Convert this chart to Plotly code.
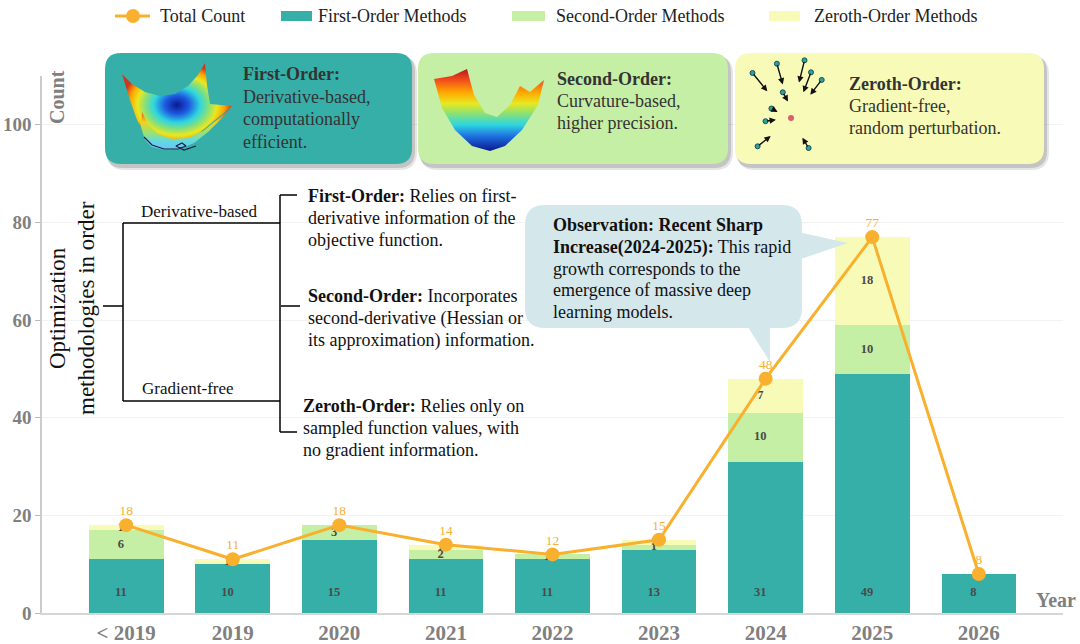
import plotly.graph_objects as go

# ---------------- data ----------------
categories = ["< 2019", "2019", "2020", "2021", "2022", "2023", "2024", "2025", "2026"]
first_order = [11, 10, 15, 11, 11, 13, 31, 49, 8]
second_order = [6, 0, 3, 2, 1, 1, 10, 10, 0]
zeroth_order = [1, 1, 0, 1, 0, 1, 7, 18, 0]
total_count = [18, 11, 18, 14, 12, 15, 48, 77, 8]
y_ticks = [0, 20, 40, 60, 80, 100]

# ---------------- style ----------------
W, H = 1080, 644
TEAL = "#36AFA9"
GREEN = "#C5EFA5"
YELLOW = "#F8FBB8"
ORANGE = "#F9B02E"
GRAY = "#808080"
SERIF = "Liberation Serif"
TXT = "#333333"

xs = list(range(len(categories)))
fig = go.Figure()

# stacked bars
for vals, col, name in [(first_order, TEAL, "First-Order Methods"),
                        (second_order, GREEN, "Second-Order Methods"),
                        (zeroth_order, YELLOW, "Zeroth-Order Methods")]:
    fig.add_trace(go.Bar(x=xs, y=vals, marker=dict(color=col, line=dict(width=0)),
                         width=0.7, name=name, showlegend=False, hoverinfo="skip"))

# segment labels
off = -0.05
lab_font = dict(family=SERIF, size=12.5, color="#4A4A4A", weight="bold")
fig.add_trace(go.Scatter(x=[i + off for i in xs], y=[4.2] * len(xs), mode="text",
                         text=[str(v) if v else "" for v in first_order],
                         textfont=lab_font, showlegend=False, hoverinfo="skip"))
fig.add_trace(go.Scatter(x=[i + off for i in xs],
                         y=[f + s / 2 for f, s in zip(first_order, second_order)], mode="text",
                         text=[str(v) if v else "" for v in second_order],
                         textfont=lab_font, showlegend=False, hoverinfo="skip"))
fig.add_trace(go.Scatter(x=[i + off for i in xs],
                         y=[f + s + z / 2 for f, s, z in zip(first_order, second_order, zeroth_order)],
                         mode="text", text=[str(v) if v else "" for v in zeroth_order],
                         textfont=lab_font, showlegend=False, hoverinfo="skip"))

# total line
fig.add_trace(go.Scatter(x=xs, y=total_count, mode="lines+markers",
                         line=dict(color=ORANGE, width=3), marker=dict(size=14, color=ORANGE),
                         name="Total Count", showlegend=False, hoverinfo="skip"))
fig.add_trace(go.Scatter(x=xs, y=[v + 2.7 for v in total_count], mode="text",
                         text=[str(v) for v in total_count],
                         textfont=dict(family=SERIF, size=13.5, color=ORANGE),
                         showlegend=False, hoverinfo="skip"))

# ---------------- decoration helpers (pixel coordinates on x2/y2) ----------------
def rrect(x0, y0, x1, y1, r):
    return (f"M{x0+r},{y0} L{x1-r},{y0} Q{x1},{y0} {x1},{y0+r} L{x1},{y1-r} "
            f"Q{x1},{y1} {x1-r},{y1} L{x0+r},{y1} Q{x0},{y1} {x0},{y1-r} "
            f"L{x0},{y0+r} Q{x0},{y0} {x0+r},{y0} Z")

shapes = []
annotations = []

def pshape(path, fill, layer="between", opacity=1.0):
    shapes.append(dict(type="path", path=path, xref="x2", yref="y2", fillcolor=fill,
                       line=dict(width=0), layer=layer, opacity=opacity))

def seg(x0, y0, x1, y1, color="black", width=1.5):
    shapes.append(dict(type="line", x0=x0, y0=y0, x1=x1, y1=y1, xref="x2", yref="y2",
                       line=dict(color=color, width=width), layer="between"))

def text(x, y, s, size=18, color=TXT, xanchor="left", angle=0, bold=False):
    annotations.append(dict(x=x, y=y, xref="x2", yref="y2", text=s, showarrow=False,
                            xanchor=xanchor, yanchor="middle", textangle=angle,
                            font=dict(family=SERIF, size=size, color=color,
                                      weight="bold" if bold else "normal")))

def lines(x, ys, ss, size=18, color=TXT):
    for y, s in zip(ys, ss):
        text(x, y, s, size=size, color=color)

def poly(pts, grad, line=None):
    fig.add_trace(go.Scatter(x=[p[0] for p in pts], y=[p[1] for p in pts], mode="lines",
                             fill="toself", line=line or dict(width=0), fillgradient=grad,
                             xaxis="x2", yaxis="y2", showlegend=False, hoverinfo="skip"))

# ---------- top boxes ----------
boxes = [(105, 53, 412, 164, TEAL), (418, 53, 728, 164, GREEN), (735, 53, 1044, 164, YELLOW)]
for x0, y0, x1, y1, col in boxes:
    pshape(rrect(x0 + 2, y0 + 3, x1 + 5, y1 + 6, 18), "rgba(0,0,0,0.10)")
    pshape(rrect(x0 + 1, y0 + 2, x1 + 3, y1 + 4, 17), "rgba(0,0,0,0.14)")
    pshape(rrect(x0, y0, x1, y1, 16), col)

lines(241, [74, 96.5, 119, 141.5],
      ["<b>First-Order:</b>", "Derivative-based,", "computationally", "efficient."])
lines(555, [79, 101, 123], ["<b>Second-Order:</b>", "Curvature-based,", "higher precision."])
lines(847, [84, 106, 128], ["<b>Zeroth-Order:</b>", "Gradient-free,", "random perturbation."])

jet = [[0, "#B01A1A"], [0.12, "#F0441E"], [0.28, "#FFA500"], [0.42, "#E8E820"],
       [0.55, "#86E07A"], [0.68, "#2ED6E0"], [0.82, "#1E70E0"], [1, "#0A1890"]]
jet_radial = [[0, "#0A1890"], [0.22, "#1E5AE0"], [0.42, "#2ED6E0"], [0.58, "#86E07A"],
              [0.72, "#E8E820"], [0.86, "#FFA500"], [1, "#D0361A"]]
lip_scale = [[0, "#E04020"], [0.3, "#F5D020"], [0.55, "#9BE36A"], [0.8, "#5FD8E8"], [1, "#70C0F0"]]

# icon 1: first-order surface (back sheet + front lip)
icon1 = [(122, 74), (132, 84), (145, 92), (160, 96), (175, 94), (188, 86), (198, 75), (205, 63),
         (207, 85), (210, 104), (232, 106), (222, 114), (210, 124), (198, 134), (185, 143),
         (170, 147), (158, 146), (148, 140), (142, 128), (137, 120), (130, 100), (122, 74)]
poly(icon1, dict(type="radial", colorscale=jet_radial))
lip = [(142, 112), (148, 124), (158, 134), (172, 139), (188, 138), (203, 131), (218, 119),
       (232, 106), (222, 118), (208, 132), (194, 143), (180, 149), (165, 150), (152, 147),
       (145, 140), (141, 127), (142, 112)]
poly(lip, dict(type="vertical", colorscale=lip_scale, start=110, stop=150))
fig.add_trace(go.Scatter(x=[144, 152, 164, 178, 186, 182, 176, 184, 196],
                         y=[137, 145, 149, 149, 146, 143, 146, 150, 146], mode="lines",
                         line=dict(color="#1a1a40", width=1.2), xaxis="x2", yaxis="y2",
                         showlegend=False, hoverinfo="skip"))

# icon 2: second-order bowl
icon2 = [(434, 79), (452, 76), (467, 69), (474, 95), (485, 113), (497, 117), (510, 105),
         (520, 86), (530, 92), (544, 80), (538, 105), (522, 130), (505, 146), (490, 151),
         (472, 146), (455, 130), (442, 108), (434, 79)]
poly(icon2, dict(type="vertical", colorscale=jet, start=69, stop=151))

# icon 3: perturbation arrows
arrows = [((752.5, 73), (767.3, 91.3)), ((776.9, 63.7), (782.8, 84.4)), ((804.5, 60.3), (799, 82.6)),
          ((811, 72.3), (803.4, 92.3)), ((821.7, 79.9), (810.3, 94.7)), ((782.8, 92.3), (788, 101.6)),
          ((771.4, 108.5), (777.6, 111.9)), ((765.5, 121.2), (775.9, 119.8)),
          ((757.6, 146.3), (770.7, 136)), ((808.6, 148), (802.4, 137.7))]
for (tx, ty), (hx, hy) in arrows:
    annotations.append(dict(x=hx, y=hy, ax=tx, ay=ty, xref="x2", yref="y2", axref="x2", ayref="y2",
                            text="", showarrow=True, arrowhead=2, arrowsize=0.9, arrowwidth=1.4,
                            arrowcolor="#111111"))
fig.add_trace(go.Scatter(x=[a[0][0] for a in arrows], y=[a[0][1] for a in arrows], mode="markers",
                         marker=dict(size=5, color="#2BA39B", line=dict(color="#1B4F5A", width=1)),
                         xaxis="x2", yaxis="y2", showlegend=False, hoverinfo="skip"))
fig.add_trace(go.Scatter(x=[791], y=[118], mode="markers", marker=dict(size=6, color="#D9606A"),
                         xaxis="x2", yaxis="y2", showlegend=False, hoverinfo="skip"))

# ---------- tree diagram ----------
seg(103, 306, 123, 306)
seg(123, 223, 123, 401)
seg(123, 223, 280, 223)
seg(123, 401, 280, 401)
seg(280, 195, 280, 432)
seg(280, 195, 297, 195)
seg(281, 306, 300, 306)
seg(280, 432, 297, 432)
text(199, 211, "Derivative-based", size=17, color="#111", xanchor="center")
text(188, 388, "Gradient-free", size=17, color="#111", xanchor="center")
text(57, 308, "Optimization", size=23, color="#111", xanchor="center", angle=-90)
text(86, 308, "methodologies in order", size=23, color="#111", xanchor="center", angle=-90)
lines(306, [196, 218, 240], ["<b>First-Order:</b> Relies on first-",
                             "derivative information of the", "objective function."], color="#111")
lines(306, [296, 318, 340], ["<b>Second-Order:</b> Incorporates",
                             "second-derivative (Hessian or", "its approximation) information."],
      color="#111")
lines(301, [406, 428, 450], ["<b>Zeroth-Order:</b> Relies only on",
                             "sampled function values, with", "no gradient information."], color="#111")

# ---------- observation callout ----------
CALL = "#D4E8EC"
pshape(rrect(525, 205, 802, 328, 20), CALL)
pshape("M798,232 L848,243 L798,260 Z", CALL)
pshape("M746,324 L770,324 L770,362 Z", CALL)
lines(551, [225, 247, 268.5, 290, 312],
      ["<b>Observation: Recent Sharp</b>", "<b>Increase(2024-2025):</b> This rapid",
       "growth corresponds to the", "emergence of massive deep", "learning models."], color="#111")

# ---------- axis titles ----------
text(57, 97, "Count", size=20, color=GRAY, xanchor="center", angle=-90, bold=True)
text(1056, 600, "Year", size=20, color=GRAY, xanchor="center", bold=True)

# ---------- manual legend ----------
seg(115, 16, 150, 16, color=ORANGE, width=3)
shapes.append(dict(type="circle", x0=126, y0=9, x1=140, y1=23, xref="x2", yref="y2",
                   fillcolor=ORANGE, line=dict(width=0), layer="between"))
text(158, 16, "Total Count", size=18, color="#222")
for x0, x1, col, tx, lab in [(281, 312, TEAL, 316, "First-Order Methods"),
                             (512, 545, GREEN, 554, "Second-Order Methods"),
                             (769, 800, YELLOW, 812, "Zeroth-Order Methods")]:
    shapes.append(dict(type="rect", x0=x0, y0=11, x1=x1, y1=21, xref="x2", yref="y2",
                       fillcolor=col, line=dict(width=0), layer="between"))
    text(tx, 16, lab, size=18, color="#222")

# ---------------- layout ----------------
fig.update_layout(
    width=W, height=H, margin=dict(l=0, r=0, t=0, b=0, autoexpand=False),
    paper_bgcolor="white", plot_bgcolor="rgba(0,0,0,0)",
    barmode="stack", bargap=0.3, showlegend=False,
    font=dict(family=SERIF),
    xaxis=dict(domain=[42 / W, 1063 / W], range=[-0.79, 8.79], tickmode="array",
               tickvals=xs, ticktext=categories, showgrid=False, zeroline=False,
               showline=True, linecolor="#D6D6D6", linewidth=2, ticks="",
               tickfont=dict(family=SERIF, size=21, color=GRAY, weight="bold"),
               anchor="y", fixedrange=True, automargin=False),
    yaxis=dict(domain=[1 - 613 / H, 1 - 76 / H], range=[0, 110], tickmode="array",
               tickvals=y_ticks, showgrid=True, gridcolor="#F2F2F2", gridwidth=1,
               zeroline=False, showline=True, linecolor="#CCCCCC", linewidth=1.5,
               ticks="outside", ticklen=5, tickcolor="#BBBBBB",
               tickfont=dict(family=SERIF, size=19, color=GRAY, weight="bold"),
               anchor="x", fixedrange=True, automargin=False),
    xaxis2=dict(domain=[0, 1], range=[0, W], visible=False, anchor="y2", fixedrange=True,
                automargin=False),
    yaxis2=dict(domain=[0, 1], range=[H, 0], visible=False, anchor="x2", fixedrange=True,
                automargin=False),
    shapes=shapes, annotations=annotations,
)

fig.write_html("out.html", config={"displayModeBar": False},
               post_script="document.body.style.margin='0';")
